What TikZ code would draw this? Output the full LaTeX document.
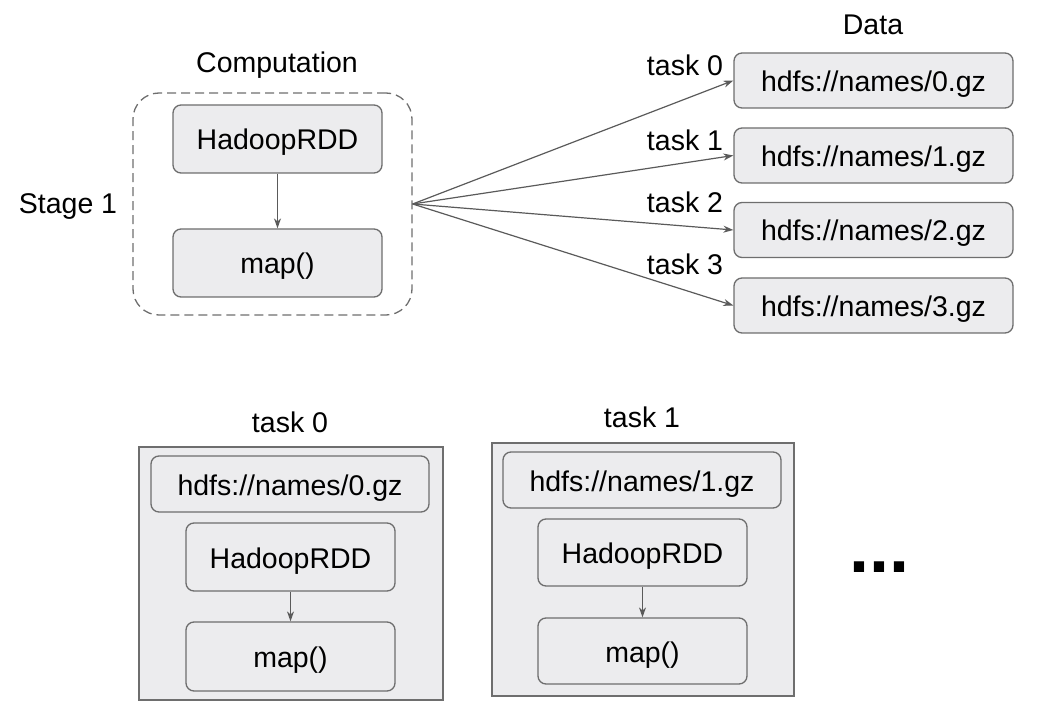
\documentclass[tikz,border=0pt]{standalone}
\usepackage{fontspec}
\setmainfont{Liberation Sans}
\usetikzlibrary{arrows.meta}
\definecolor{boxfill}{RGB}{236,236,238}
\definecolor{boxline}{RGB}{110,110,110}
\definecolor{arrowc}{RGB}{90,90,90}
\tikzset{
  txt/.style={inner sep=0pt, text height=24pt, text depth=2pt},
  rbox/.style={txt, draw=boxline, fill=boxfill, line width=1.3pt, rounded corners=8pt},
  obox/.style={draw=boxline, fill=boxfill, line width=1.5pt, inner sep=0pt},
  dbox/.style={draw=boxline, line width=1.3pt, dash pattern=on 9pt off 5pt, rounded corners=26pt, inner sep=0pt},
  arr/.style={draw=arrowc, line width=1.2pt, -{Stealth[length=10pt,width=7pt]}},
}
\begin{document}
\begin{tikzpicture}[x=1pt,y=-1pt,font=\fontsize{28.5}{34}\selectfont]
\useasboundingbox (0,0) rectangle (1045,714);

% top stage
\node[dbox, minimum width=279pt, minimum height=222pt] (stage) at (272.5,204) {};
\node[txt] (comp) at (277,62) {Computation};
\node[txt] (stagelbl) at (68,203) {Stage 1};
\node[rbox, minimum width=209pt, minimum height=68pt] (hrdd) at (277.5,139) {HadoopRDD};
\node[rbox, minimum width=209pt, minimum height=68pt] (map) at (277.5,263) {map()};
\draw[arr] (hrdd) -- (map);

% data
\node[txt] (data) at (873,24) {Data};
\node[rbox, minimum width=279pt, minimum height=55pt] (d0) at (873.5,80.5) {hdfs://names/0.gz};
\node[rbox, minimum width=279pt, minimum height=55pt] (d1) at (873.5,155.5) {hdfs://names/1.gz};
\node[rbox, minimum width=279pt, minimum height=55pt] (d2) at (873.5,230) {hdfs://names/2.gz};
\node[rbox, minimum width=279pt, minimum height=55pt] (d3) at (873.5,305.5) {hdfs://names/3.gz};
\node[txt] (t0) at (685,65) {task 0};
\node[txt] (t1) at (685,140) {task 1};
\node[txt] (t2) at (685,202) {task 2};
\node[txt] (t3) at (685,264) {task 3};
\foreach \d in {d0,d1,d2,d3} \draw[arr] (stage.east) -- (\d.west);

% bottom task 0
\node[txt] (bt0) at (290,421) {task 0};
\node[obox, minimum width=304pt, minimum height=253pt] (o0) at (291,573.5) {};
\node[rbox, minimum width=278pt, minimum height=56pt] (bh0) at (290,484) {hdfs://names/0.gz};
\node[rbox, minimum width=209pt, minimum height=68pt] (br0) at (290.5,557) {HadoopRDD};
\node[rbox, minimum width=209pt, minimum height=69pt] (bm0) at (290.5,656.5) {map()};
\draw[arr] (br0) -- (bm0);

% bottom task 1
\node[txt] (bt1) at (642,416) {task 1};
\node[obox, minimum width=302pt, minimum height=253pt] (o1) at (643,569.5) {};
\node[rbox, minimum width=278pt, minimum height=56pt] (bh1) at (642,480) {hdfs://names/1.gz};
\node[rbox, minimum width=209pt, minimum height=67pt] (br1) at (642.5,552.5) {HadoopRDD};
\node[rbox, minimum width=209pt, minimum height=66pt] (bm1) at (642.5,651) {map()};
\draw[arr] (br1) -- (bm1);

\node[inner sep=0pt, anchor=base, font=\fontsize{72}{72}\selectfont\bfseries] (dots) at (879,572) {...};
\end{tikzpicture}
\end{document}
